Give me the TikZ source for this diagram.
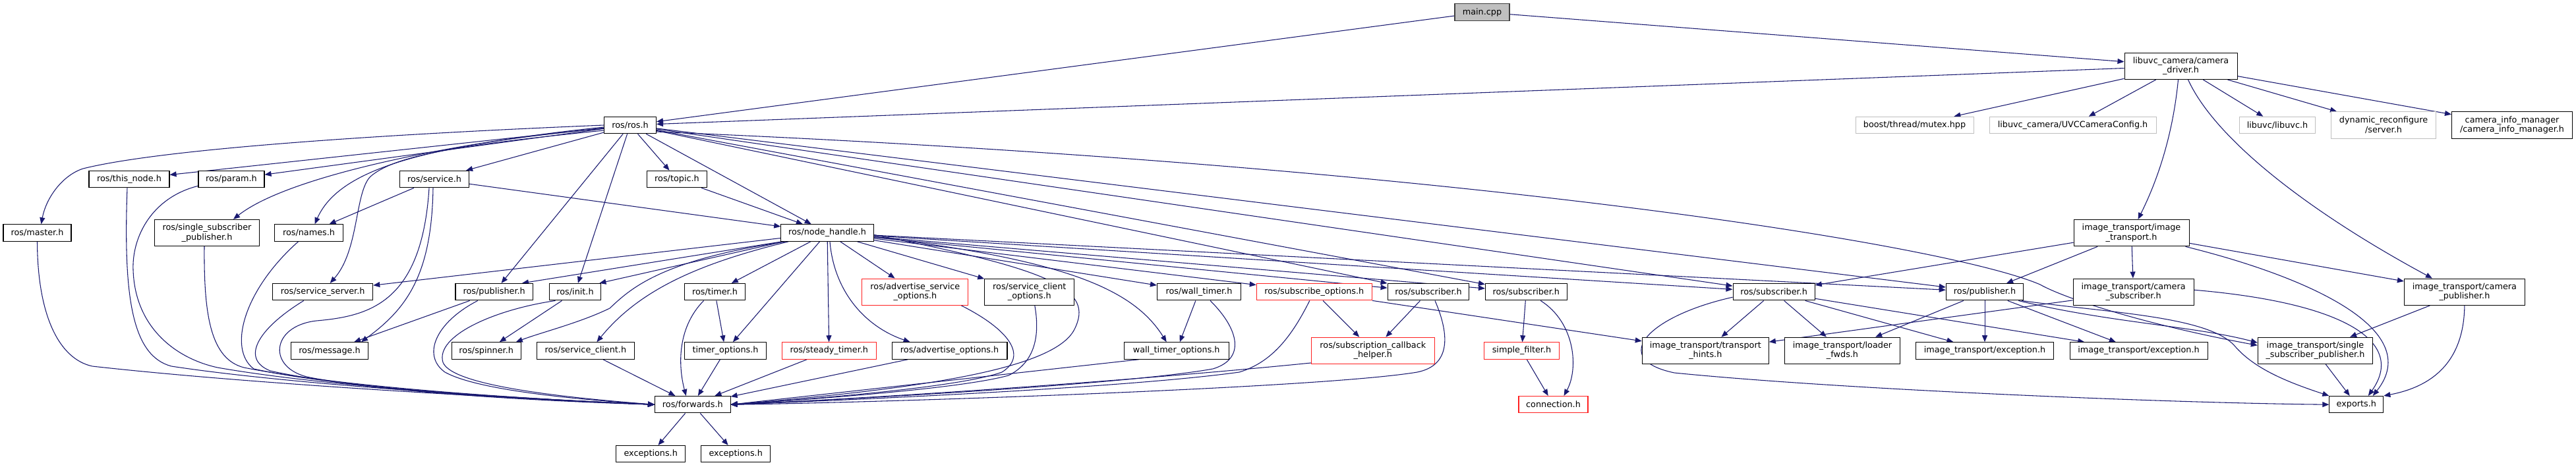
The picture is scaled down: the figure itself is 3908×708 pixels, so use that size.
\documentclass[tikz,border=0pt]{standalone}
\usepackage{fontspec}
\setmainfont{DejaVu Sans}
\usetikzlibrary{arrows.meta,calc}
\definecolor{edgec}{HTML}{191970}
\definecolor{grayb}{HTML}{BFBFBF}
\definecolor{darkb}{HTML}{404040}
\definecolor{redb}{HTML}{FF2020}
\pgfdeclarelayer{bg}
\pgfdeclarelayer{paper}
\pgfsetlayers{paper,bg,main}
\begin{document}
\begin{tikzpicture}[x=0.75pt,y=-0.75pt,
  box/.style={draw=black,fill=white,line width=0.8pt,rectangle,inner sep=0pt,align=center,
    font=\fontsize{9.6pt}{11pt}\selectfont,minimum height=25.5*0.75pt},
  hh/.style={minimum height=40.3*0.75pt},
  bw/.style={minimum width=#1*0.75pt},
  ext/.style={draw=grayb},
  trunc/.style={draw=redb},
  edge/.style={draw=edgec,line width=0.8pt,-{Triangle[length=7.5pt,width=6pt]}},
]
\begin{pgfonlayer}{paper}
\fill[white] (0,0) rectangle (3908,708);
\end{pgfonlayer}
\useasboundingbox (0,0) rectangle (3908,708);

% ---- nodes ----
\node[box,fill=grayb,draw=darkb,bw=83] (main) at (2248.5,18.5) {main.cpp};
\node[box,hh,bw=171] (drv) at (3308.5,100.3) {libuvc\_camera/camera\\\_driver.h};
\node[box,bw=79] (rosh) at (956,190) {ros/ros.h};
\node[box,ext,bw=179] (mutex) at (2904.5,190) {boost/thread/mutex.hpp};
\node[box,ext,bw=253] (uvc) at (3144.5,190) {libuvc\_camera/UVCCameraConfig.h};
\node[box,ext,bw=115.6] (libuvc) at (3455,190) {libuvc/libuvc.h};
\node[box,ext,hh,bw=158.7] (dyn) at (3616,190) {dynamic\_reconfigure\\/server.h};
\node[box,hh,bw=183] (cim) at (3811,190) {camera\_info\_manager\\/camera\_info\_manager.h};

\node[box,bw=122] (thisnode) at (196,272) {ros/this\_node.h};
\node[box,bw=100] (param) at (351,272) {ros/param.h};
\node[box,bw=105] (service) at (659,272) {ros/service.h};
\node[box,bw=90.5] (topic) at (1027,272) {ros/topic.h};

\node[box,bw=103] (master) at (56.5,353.5) {ros/master.h};
\node[box,hh,bw=159] (ssp) at (314,353.5) {ros/single\_subscriber\\\_publisher.h};
\node[box,bw=103.5] (names) at (468.5,353.5) {ros/names.h};
\node[box,bw=140.5] (nh) at (1255,353.5) {ros/node\_handle.h};
\node[box,hh,bw=175] (itr) at (3233.5,353.7) {image\_transport/image\\\_transport.h};

\node[box,bw=152] (sserver) at (489.7,443.2) {ros/service\_server.h};
\node[box,bw=117.4] (pub) at (749.7,443.2) {ros/publisher.h};
\node[box,bw=78.7] (init) at (872.5,443.2) {ros/init.h};
\node[box,bw=91.7] (timer) at (1084.5,443.2) {ros/timer.h};
\node[box,trunc,hh,bw=161] (aso) at (1388.4,443.2) {ros/advertise\_service\\\_options.h};
\node[box,hh,bw=136] (sco) at (1561.8,443.2) {ros/service\_client\\\_options.h};
\node[box,bw=127] (wtimer) at (1819,443.2) {ros/wall\_timer.h};
\node[box,trunc,bw=175] (subopt) at (1993.8,443.2) {ros/subscribe\_options.h};
\node[box,bw=123.8] (sub1) at (2167,443.2) {ros/subscriber.h};
\node[box,bw=123.7] (sub2) at (2315.3,443.2) {ros/subscriber.h};
\node[box,bw=124.2] (sub3) at (2691.1,443.2) {ros/subscriber.h};
\node[box,bw=117.4] (pub2) at (3011,443.2) {ros/publisher.h};
\node[box,hh,bw=183] (camsub) at (3236.6,443.2) {image\_transport/camera\\\_subscriber.h};
\node[box,hh,bw=183] (campub) at (3738.9,443.2) {image\_transport/camera\\\_publisher.h};

\node[box,bw=117.5] (message) at (500,532.5) {ros/message.h};
\node[box,bw=105] (spinner) at (737.7,532.5) {ros/spinner.h};
\node[box,bw=148] (sclient) at (888.4,532.5) {ros/service\_client.h};
\node[box,bw=123.7] (topt) at (1100.5,532.5) {timer\_options.h};
\node[box,trunc,bw=143] (steady) at (1257.8,532.5) {ros/steady\_timer.h};
\node[box,bw=174.7] (advopt) at (1440.6,532.5) {ros/advertise\_options.h};
\node[box,bw=159] (wtopt) at (1784.7,532.5) {wall\_timer\_options.h};
\node[box,trunc,hh,bw=187] (sch) at (2082.8,532.3) {ros/subscription\_callback\\\_helper.h};
\node[box,trunc,bw=114.5] (sfilter) at (2308.5,532.5) {simple\_filter.h};
\node[box,hh,bw=192] (hints) at (2587.3,532.3) {image\_transport/transport\\\_hints.h};
\node[box,hh,bw=174.7] (loader) at (2795,532.3) {image\_transport/loader\\\_fwds.h};
\node[box,bw=209.2] (exc1) at (3011,532.5) {image\_transport/exception.h};
\node[box,bw=209] (exc2) at (3244.5,532.5) {image\_transport/exception.h};
\node[box,hh,bw=174.3] (single) at (3512.5,532.3) {image\_transport/single\\\_subscriber\_publisher.h};

\node[box,bw=114.5] (fwd) at (1050.8,614.2) {ros/forwards.h};
\node[box,trunc,bw=105] (conn) at (2356.5,614.2) {connection.h};
\node[box,bw=82] (exports) at (3574.8,614.2) {exports.h};
\node[box,bw=105] (exa) at (987.2,689.2) {exceptions.h};
\node[box,bw=104.8] (exb) at (1116.2,689.2) {exceptions.h};

% ---- edges ----
\begin{pgfonlayer}{bg}
\draw[edge] (main) -- (rosh);
\draw[edge] (main) -- (drv);
\draw[edge] (drv) -- (rosh);
\draw[edge] (drv) -- (mutex);
\draw[edge] (drv) -- (uvc);
\draw[edge] (drv) -- (libuvc);
\draw[edge] (drv) -- (dyn);
\draw[edge] (drv) -- (cim);
\draw[edge] ($(drv.south)+(-4,0)$) .. controls (3295,220) and (3265,290) .. ($(itr.north)+(10,0)$);
\draw[edge] ($(drv.south)+(11,0)$) .. controls (3360,210) and (3500,320) .. ($(campub.north)+(-49,0)$);

% ros.h
\draw[edge] (rosh.west) .. controls (600,203) and (250,225) .. (126,256) .. controls (95,266) and (70,300) .. ($(master.north)+(6,0)$);
\draw[edge] (rosh) -- (thisnode);
\draw[edge] (rosh) -- (param);
\draw[edge] ($(rosh.west)+(0,3)$) .. controls (700,215) and (440,265) .. ($(ssp.north)+(40,0)$);
\draw[edge] ($(rosh.west)+(0,5)$) .. controls (650,220) and (515,255) .. ($(names.north)+(9,0)$);
\draw[edge] ($(rosh.west)+(0,8)$) .. controls (700,220) and (600,235) .. (562,268) .. controls (538,292) and (545,380) .. ($(sserver.north)+(11,0)$);
\draw[edge] (rosh) -- (service);
\draw[edge] (rosh) -- (pub);
\draw[edge] (rosh) -- (init);
\draw[edge] (rosh) -- (topic);
\draw[edge] (rosh) -- (nh);
\draw[edge] (rosh) -- (sub1);
\draw[edge] (rosh) -- (sub2);
\draw[edge] (rosh) -- (sub3);
\draw[edge] (rosh) -- (pub2);
\draw[edge] ($(rosh.east)+(0,10)$) .. controls (2200,250) and (2950,370) .. (3095,432) .. controls (3130,452) and (3250,492) .. ($(single.west)+(0,-8)$);

% service.h, topic.h
\draw[edge] (service) -- (names);
\draw[edge] ($(service.south)+(-2,0)$) .. controls (655,420) and (615,470) .. ($(message.north)+(48,0)$);
\draw[edge] ($(service.south)+(-8,0)$) .. controls (640,460) and (560,480) .. (480,487)
   .. controls (410,495) and (405,560) .. (470,573) .. controls (600,598) and (850,610) .. (fwd.west);
\draw[edge] (service) -- (nh);
\draw[edge] (topic) -- (nh);

% left nodes -> forwards
\draw[edge] (master.south) .. controls (57,480) and (90,545) .. (140,556) .. controls (400,585) and (800,606) .. (fwd.west);
\draw[edge] ($(thisnode.south)+(-3,0)$) .. controls (187,450) and (200,540) .. (260,556) .. controls (450,585) and (800,606) .. (fwd.west);
\draw[edge] ($(param.south west)+(0,-3)$) .. controls (230,300) and (200,360) .. (202,410)
   .. controls (205,500) and (270,545) .. (330,558) .. controls (500,588) and (800,606) .. (fwd.west);
\draw[edge] ($(ssp.south)+(-4,0)$) .. controls (309,480) and (320,545) .. (370,558) .. controls (520,588) and (800,606) .. (fwd.west);
\draw[edge] ($(names.south)+(-16,0)$) .. controls (370,440) and (345,530) .. (385,560) .. controls (520,590) and (800,606) .. (fwd.west);
\draw[edge] ($(sserver.south)+(-29,0)$) .. controls (390,500) and (365,545) .. (410,563) .. controls (540,592) and (800,607) .. (fwd.west);
\draw[edge] ($(pub.south)+(-25,0)$) .. controls (660,490) and (640,540) .. (675,565) .. controls (720,590) and (850,605) .. (fwd.west);
\draw[edge] ($(init.south)+(-30,0)$) .. controls (750,470) and (660,510) .. (672,550) .. controls (685,585) and (850,603) .. (fwd.west);
\draw[edge] (init) -- (spinner);
\draw[edge] (pub) -- (message);

% node_handle.h
\draw[edge] ($(nh.west)+(0,8)$) -- ($(sserver.east)+(0,-10)$);
\draw[edge] ($(nh.south west)+(2,0)$) -- ($(pub.north east)+(-17,0)$);
\draw[edge] ($(nh.south west)+(5,0)$) -- ($(init.north east)+(-3,0)$);
\draw[edge] ($(nh.south west)+(8,0)$) .. controls (1000,395) and (955,440) .. (925,468) .. controls (880,490) and (820,505) .. ($(spinner.north east)+(-8,0)$);
\draw[edge] ($(nh.south west)+(12,0)$) .. controls (1060,400) and (970,440) .. ($(sclient.north)+(17,0)$);
\draw[edge] (nh) -- (timer);
\draw[edge] (nh) -- (topt);
\draw[edge] (nh) -- (steady);
\draw[edge] ($(nh.south)+(4,0)$) .. controls (1265,440) and (1310,495) .. ($(advopt.north)+(-60,0)$);
\draw[edge] (nh) -- (aso);
\draw[edge] (nh) -- (sco);
\draw[edge] (nh) -- (wtimer);
\draw[edge] ($(nh.east)+(0,6)$) .. controls (1620,395) and (1720,440) .. ($(wtopt.north)+(-15,0)$);
\draw[edge] (nh) -- (subopt);
\draw[edge] (nh) -- (sub1);
\draw[edge] (nh) -- (sub2);
\draw[edge] (nh) -- (sub3);
\draw[edge] (nh) -- (pub2);
\draw[edge] ($(nh.east)+(0,3)$) .. controls (1600,410) and (1660,440) .. (1630,500) .. controls (1600,560) and (1400,590) .. (fwd.east);

% right-hand nodes -> forwards
\draw[edge] (sclient) -- (fwd);
\draw[edge] ($(timer.south)+(-17,0)$) .. controls (1025,500) and (1030,560) .. ($(fwd.north)+(-10,0)$);
\draw[edge] (timer) -- (topt);
\draw[edge] (topt) -- (fwd);
\draw[edge] (steady) -- (fwd);
\draw[edge] (advopt) -- (fwd);
\draw[edge] ($(aso.south)+(70,0)$) .. controls (1530,500) and (1560,540) .. (1520,565) .. controls (1450,590) and (1200,608) .. (fwd.east);
\draw[edge] ($(sco.south)+(8,0)$) .. controls (1578,510) and (1570,550) .. (1530,570) .. controls (1450,592) and (1200,608) .. (fwd.east);
\draw[edge] ($(wtopt.south)+(-57,0)$) -- (fwd.east);
\draw[edge] ($(wtimer.south)+(17,0)$) .. controls (1880,500) and (1890,545) .. (1840,560) .. controls (1700,585) and (1250,608) .. (fwd.east);
\draw[edge] (wtimer) -- (wtopt);
\draw[edge] ($(subopt.south)+(-7,0)$) .. controls (1960,510) and (1930,550) .. (1880,565) .. controls (1700,590) and (1250,609) .. (fwd.east);
\draw[edge] ($(sub1.south)+(10,0)$) .. controls (2200,510) and (2200,555) .. (2150,565) .. controls (2000,590) and (1300,612) .. (fwd.east);
\draw[edge] ($(sch.south west)+(0,-2)$) .. controls (1700,580) and (1300,606) .. (fwd.east);
\draw[edge] (sub1) -- (sch);
\draw[edge] (subopt) -- (sch);
\draw[edge] (subopt) -- (hints);
\draw[edge] (sub2) -- (sfilter);
\draw[edge] ($(sub2.south)+(22,0)$) .. controls (2390,490) and (2395,560) .. ($(conn.north)+(16,0)$);
\draw[edge] (sfilter) -- (conn);
\draw[edge] (fwd) -- (exa);
\draw[edge] (fwd) -- (exb);

% image_transport side
\draw[edge] (itr) -- (sub3);
\draw[edge] (itr) -- (pub2);
\draw[edge] (itr) -- (camsub);
\draw[edge] (itr) -- (campub);
\draw[edge] ($(itr.south east)+(-6,0)$) .. controls (3500,420) and (3680,500) .. ($(exports.north)+(25,0)$);
\draw[edge] ($(camsub.east)+(0,-3)$) .. controls (3560,460) and (3650,520) .. ($(exports.north)+(18,0)$);
\draw[edge] (camsub) -- (hints);
\draw[edge] (campub) -- (single);
\draw[edge] (campub.south) .. controls (3738,540) and (3700,585) .. (exports.north east);
\draw[edge] (single) -- (exports);
\draw[edge] (sub3) -- (hints);
\draw[edge] (sub3) -- (loader);
\draw[edge] (sub3) -- (exc1);
\draw[edge] (sub3) -- (exc2);
\draw[edge] ($(sub3.west)+(0,8)$) .. controls (2500,480) and (2440,545) .. (2540,566) .. controls (2800,592) and (3300,612) .. (exports.west);
\draw[edge] (pub2) -- (loader);
\draw[edge] (pub2) -- (exc1);
\draw[edge] (pub2) -- (exc2);
\draw[edge] ($(pub2.south east)+(-8,0)$) .. controls (3200,490) and (3330,495) .. ($(single.west)+(0,-12)$);
\draw[edge] ($(pub2.south east)+(-3,0)$) .. controls (3200,475) and (3350,480) .. (3390,525) .. controls (3420,560) and (3470,580) .. (exports.north west);
\end{pgfonlayer}
\end{tikzpicture}
\end{document}
